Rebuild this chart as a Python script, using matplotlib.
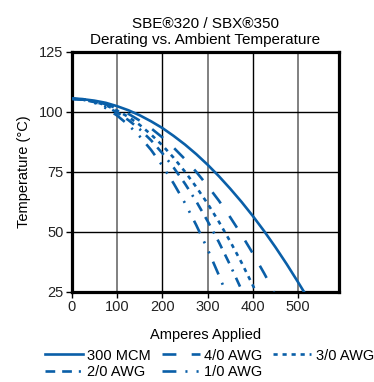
#!/usr/bin/env python3
# plot.py
# Derating curves for SBE320 / SBX350 connectors vs. ambient temperature

import matplotlib
matplotlib.use('Agg')
import matplotlib.pyplot as plt

plt.rcParams['font.family'] = ['Liberation Sans', 'DejaVu Sans']
plt.rcParams['lines.scale_dashes'] = False

# values (amps, deg C)
amps_300mcm = [0, 25, 50, 75, 100, 125, 150, 175, 200, 225, 250, 275, 300, 325, 350,
               375, 400, 425, 450, 475, 500, 513]
temp_300mcm = [105.5, 105.3, 104.7, 103.8, 102.4, 100.7, 98.6, 96.1, 93.3, 90.0, 86.4, 82.4,
               78.0, 73.2, 68.0, 62.5, 56.6, 50.3, 43.6, 36.5, 29.0, 25.0]

amps_4_0 = [0, 25, 50, 75, 100, 125, 150, 175, 200, 225, 250, 275, 300, 325, 350, 375, 400, 425, 447]
temp_4_0 = [105.5, 105.3, 104.5, 103.2, 101.5, 99.2, 96.4, 93.2, 89.4, 85.1, 80.3, 75.0, 69.2,
            63.0, 56.1, 48.8, 41.0, 32.7, 25.0]

amps_3_0 = [0, 25, 50, 75, 100, 125, 150, 175, 200, 225, 250, 275, 300, 325, 350, 375, 407]
temp_3_0 = [105.5, 105.2, 104.3, 102.8, 100.6, 97.9, 94.6, 90.6, 86.1, 80.9, 75.1, 68.7, 61.8,
            54.2, 46.0, 37.2, 25.0]

amps_2_0 = [0, 25, 50, 75, 100, 125, 150, 175, 200, 225, 250, 275, 300, 325, 350, 377]
temp_2_0 = [105.5, 105.1, 104.1, 102.3, 99.8, 96.6, 92.8, 88.2, 82.8, 76.8, 70.1, 62.7, 54.5,
            45.7, 36.1, 25.0]

amps_1_0 = [0, 25, 50, 75, 100, 125, 150, 175, 200, 225, 250, 275, 300, 325, 340]
temp_1_0 = [105.5, 105.1, 103.8, 101.6, 98.5, 94.6, 89.8, 84.2, 77.6, 70.2, 62.0, 52.8, 42.8,
            31.9, 25.0]

x_ticks = [0, 100, 200, 300, 400, 500]
y_ticks = [25, 50, 75, 100, 125]

blue = '#0a5fa8'

fig = plt.figure(figsize=(3.74, 3.82), dpi=100)
ax = fig.add_axes([0.192, 0.236, 0.714, 0.628])

# vertical grid alternates grey / black like the original
for i, xt in enumerate(x_ticks[1:]):
    ax.axvline(xt, color='#808080' if i % 2 == 0 else 'black', lw=1.4 if i % 2 == 0 else 1.0, zorder=1)
for yt in y_ticks[1:-1]:
    ax.axhline(yt, color='black', lw=1.0, zorder=1)

l1, = ax.plot(amps_300mcm, temp_300mcm, color=blue, lw=1.9, label='300 MCM', zorder=3)
l2, = ax.plot(amps_4_0, temp_4_0, color=blue, lw=1.9, ls=(0, (10, 11)), label='4/0 AWG', zorder=3)
l3, = ax.plot(amps_3_0, temp_3_0, color=blue, lw=1.9, ls=(0, (3, 3.5)), label='3/0 AWG', zorder=3)
l4, = ax.plot(amps_2_0, temp_2_0, color=blue, lw=1.9, ls=(0, (7, 5, 7, 5, 1.5, 5)), label='2/0 AWG', zorder=3)
l5, = ax.plot(amps_1_0, temp_1_0, color=blue, lw=1.9, ls=(0, (10, 6.5, 1.5, 6.5, 1.5, 6.5)),
              label='1/0 AWG', zorder=3)

ax.set_xlim(0, 590)
ax.set_ylim(25, 125)
ax.set_xticks(x_ticks)
ax.set_yticks(y_ticks)
ax.tick_params(axis='both', labelsize=10.5, length=4, width=1, color='black', labelcolor='#222222', pad=2)
for side in ax.spines.values():
    side.set_linewidth(2.3)

ax.set_xlabel('Amperes Applied', fontsize=10.5, labelpad=10)
ax.set_ylabel('Temperature (\u00b0C)', fontsize=10.5, labelpad=6)
ax.set_title('SBE\u00ae320 / SBX\u00ae350\nDerating vs. Ambient Temperature', fontsize=11,
             linespacing=1.15, pad=6)

# legend fills column-wise, so order handles to get the rows right
fig.legend([l1, l4, l2, l5, l3], ['300 MCM', '2/0 AWG', '4/0 AWG', '1/0 AWG', '3/0 AWG'],
           ncol=3, loc='lower center', bbox_to_anchor=(0.56, -0.02), frameon=False, fontsize=10.5,
           handlelength=2.6, handletextpad=0.3, columnspacing=0.75, labelspacing=0.2, borderpad=0.2)

fig.savefig('out.png', dpi=100)
